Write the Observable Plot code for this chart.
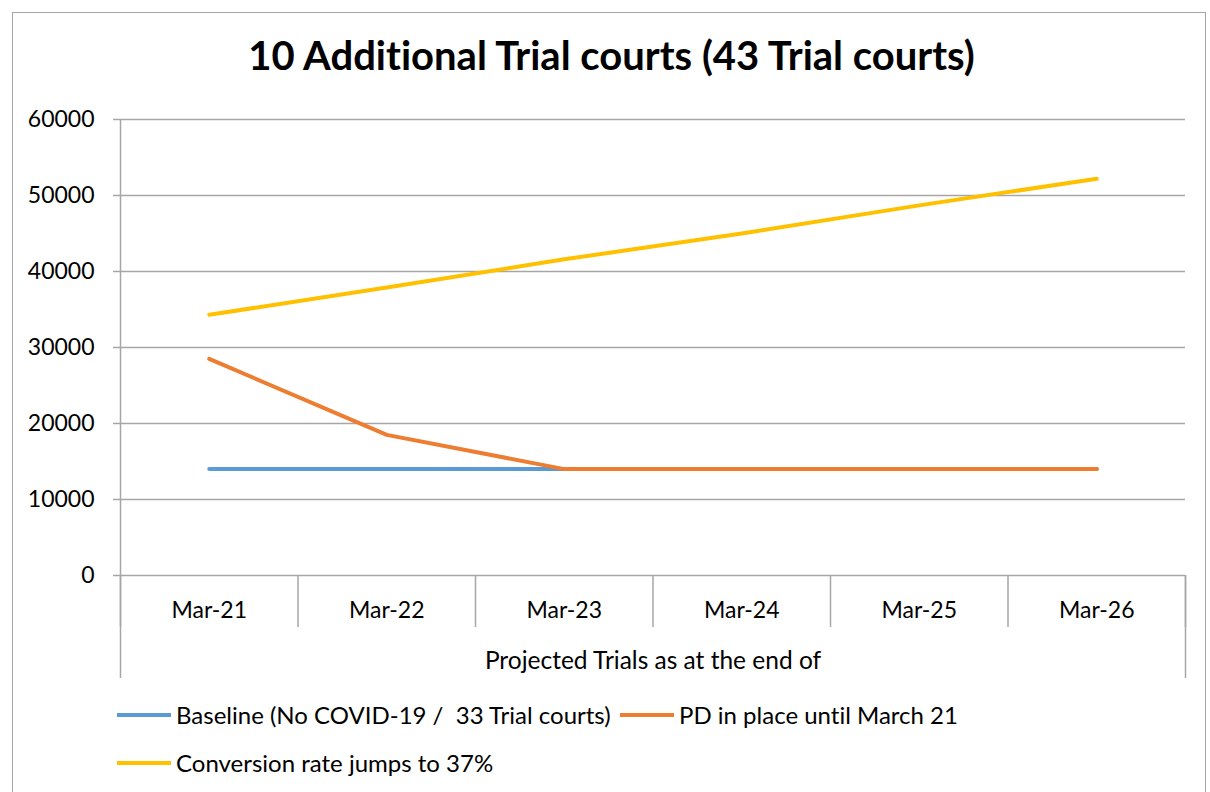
<!DOCTYPE html>
<html><head><meta charset="utf-8">
<script src="https://cdn.jsdelivr.net/npm/d3@7"></script>
<script src="https://cdn.jsdelivr.net/npm/@observablehq/plot@0.6"></script>
<style>
body{margin:0;background:#fff;font-family:Lato,"Open Sans",sans-serif;width:1210px;height:792px;overflow:hidden;position:relative;font-variant-ligatures:none;}
#frame{position:absolute;left:12px;top:12px;width:1192px;height:820px;border-left:1.5px solid #a6a6a6;border-top:1.5px solid #a6a6a6;border-right:1.5px solid #a6a6a6;}
#title{position:absolute;left:0;top:35px;width:1223px;text-align:center;font-weight:bold;font-size:40px;line-height:40px;color:#000;font-variant-ligatures:none;}
#chart{position:absolute;left:0;top:100px;}
.leg{position:absolute;display:flex;align-items:center;font-size:24px;line-height:30px;color:#000;white-space:pre;}
.leg span.sw{display:inline-block;width:54px;height:4px;margin-right:5px;}
</style></head>
<body>
<div id="frame"></div>
<div id="title">10 Additional Trial courts (43 Trial courts)</div>
<div id="chart"></div>
<div id="legend"></div>
<script>
const cats = ["Mar-21","Mar-22","Mar-23","Mar-24","Mar-25","Mar-26"];
const seriesNames = ["Baseline (No COVID-19 /  33 Trial courts)","PD in place until March 21","Conversion rate jumps to 37%"];
const seriesColors = ["#5B9BD5","#ED7D31","#FFC000"];
const baseline = [14000,14000,14000,14000,14000,14000];
const pdInPlace = [28500,18500,14000,14000,14000,14000];
const conversion = [34300,37900,41600,45000,48700,52200];
const yTicks = [0,10000,20000,30000,40000,50000,60000];
const xLabel = "Projected Trials as at the end of";

const seriesValues = [baseline, pdInPlace, conversion];
const data = seriesValues.flatMap((vals, s) => vals.map((v, i) => ({i, v, name: seriesNames[s]})));
const xDomain = [-0.5, cats.length - 0.5];
const boundaries = d3.range(cats.length + 1).map(i => i - 0.5);
const grid = "#a6a6a6";

const chart = Plot.plot({
  width: 1210, height: 590,
  marginLeft: 120, marginRight: 25, marginTop: 19, marginBottom: 115,
  x: {type: "linear", domain: xDomain},
  y: {domain: [0, 60000]},
  color: {domain: seriesNames, range: seriesColors},
  style: {fontFamily: "Lato, 'Open Sans', sans-serif", fontSize: "23px", color: "#000", overflow: "visible"},
  marks: [
    Plot.gridY(yTicks, {stroke: grid, strokeOpacity: 1, strokeWidth: 1.5}),
    Plot.axisY({ticks: yTicks, tickSize: 7, tickPadding: 19, label: null, stroke: grid, strokeOpacity: 1, strokeWidth: 1.5, fill: "#000", tickFormat: d => String(d)}),
    Plot.ruleX([xDomain[0]], {stroke: grid, strokeWidth: 1.5}),
    Plot.axisX({ticks: boundaries, tickSize: 52, tickFormat: () => "", label: null, stroke: grid, strokeOpacity: 1, strokeWidth: 1.5}),
    Plot.axisX({ticks: xDomain, tickSize: 103, tickFormat: () => "", label: null, stroke: grid, strokeOpacity: 1, strokeWidth: 1.5}),
    Plot.axisX({ticks: d3.range(cats.length), tickSize: 0, tickPadding: 26, tickFormat: i => cats[i], fill: "#000", label: null}),
    Plot.axisX({ticks: [], tickSize: 0, fill: "#000", fontSize: 24.5,
      label: xLabel, labelAnchor: "center", labelArrow: "none", labelOffset: 93}),
    Plot.lineY(data, {x: "i", y: "v", stroke: "name", z: "name", strokeWidth: 4})
  ]
});
document.getElementById("chart").appendChild(chart);

const legendPos = [[117, 715], [620, 715], [117, 763]];
const legend = document.getElementById("legend");
seriesNames.forEach((name, s) => {
  const d = document.createElement("div");
  d.className = "leg";
  d.style.left = legendPos[s][0] + "px";
  d.style.top = (legendPos[s][1] - 15) + "px";
  const sw = document.createElement("span");
  sw.className = "sw";
  sw.style.background = seriesColors[s];
  d.appendChild(sw);
  d.appendChild(document.createTextNode(name));
  legend.appendChild(d);
});
</script>
</body></html>
